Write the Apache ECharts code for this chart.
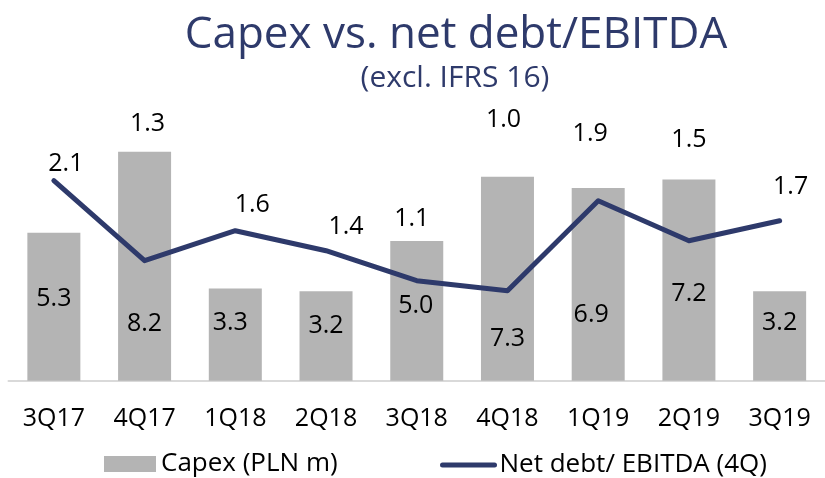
<!DOCTYPE html>
<html>
<head>
<meta charset="utf-8">
<script src="https://cdn.jsdelivr.net/npm/echarts@6/dist/echarts.min.js"></script>
<style>
  html, body { margin: 0; padding: 0; background: #ffffff; }
  #chart { width: 825px; height: 478px; }
</style>
</head>
<body>
<div id="chart"></div>
<script>
// ---- data ----
const quarters = ['3Q17', '4Q17', '1Q18', '2Q18', '3Q18', '4Q18', '1Q19', '2Q19', '3Q19'];
const capex = [5.3, 8.2, 3.3, 3.2, 5.0, 7.3, 6.9, 7.2, 3.2];
const netDebtEbitda = [2.1, 1.3, 1.6, 1.4, 1.1, 1.0, 1.9, 1.5, 1.7];
const titleText = 'Capex vs. net debt/EBITDA';
const subtitleText = '(excl. IFRS 16)';
const capexName = 'Capex (PLN m)';
const ratioName = 'Net debt/ EBITDA (4Q)';

// ---- label placement (styling, pixels) ----
const capexLabelLift = [82, 57, 58, 55, 75, 42, 66, 87, 58];
const capexLabelShift = [0, 0, -5, 0, -1, 0, -7, 0, 0];
const ratioLabelOffset = [[12, -17], [3, -137], [17, -26], [20, -24], [-5, -62], [-4, -171], [-8, -67], [0, -101], [11, -34]];

const FONT = "'Open Sans', 'Noto Sans', sans-serif";
const NAVY = '#2E3A6B';
const GREY = '#B4B4B4';

const chart = echarts.init(document.getElementById('chart'), null, { renderer: 'canvas' });

const barData = capex.map((v, i) => ({
  value: v,
  label: { offset: [capexLabelShift[i], -capexLabelLift[i]] }
}));
const lineData = netDebtEbitda.map((v, i) => ({
  value: v,
  label: { offset: ratioLabelOffset[i] }
}));

chart.setOption({
  animation: false,
  backgroundColor: '#ffffff',
  textStyle: { fontFamily: FONT },
  graphic: [
    {
      type: 'text', x: 456, y: 35,
      style: { text: titleText, font: '44px ' + FONT, fill: NAVY, align: 'center', verticalAlign: 'middle' }
    },
    {
      type: 'text', x: 455, y: 78,
      style: { text: subtitleText, font: '30px ' + FONT, fill: NAVY, align: 'center', verticalAlign: 'middle' }
    }
  ],
  legend: [
    {
      data: [{ name: capexName, icon: 'rect' }],
      left: 99, top: 446,
      itemWidth: 52, itemHeight: 16, itemGap: 0,
      textStyle: { fontFamily: FONT, fontSize: 26, color: '#000' }
    },
    {
      data: [{ name: ratioName, itemStyle: { opacity: 0 } }],
      left: 435, top: 447,
      itemWidth: 52, itemHeight: 16, itemGap: 0,
      itemStyle: { opacity: 0 },
      lineStyle: { width: 5, color: NAVY },
      textStyle: { fontFamily: FONT, fontSize: 26, color: '#000' }
    }
  ],
  grid: { left: 8.5, right: -8, top: 101.4, bottom: 97.3, containLabel: false },
  xAxis: {
    type: 'category',
    data: quarters,
    axisTick: { show: false },
    axisLine: { lineStyle: { color: '#D9D9D9', width: 2 } },
    axisLabel: { fontFamily: FONT, fontSize: 25, color: '#000', margin: 38, verticalAlign: 'middle' }
  },
  yAxis: [
    { type: 'value', min: 0, max: 10, show: false, splitLine: { show: false } },
    { type: 'value', min: 0.1, max: 2.893, show: false, splitLine: { show: false } }
  ],
  series: [
    {
      name: capexName,
      type: 'bar',
      yAxisIndex: 0,
      barWidth: 53,
      itemStyle: { color: GREY },
      data: barData,
      label: {
        show: true,
        position: ['50%', '100%'],
        align: 'center',
        verticalAlign: 'middle',
        fontFamily: FONT, fontSize: 25, color: '#000',
        formatter: p => p.value.toFixed(1)
      },
      z: 1
    },
    {
      name: ratioName,
      type: 'line',
      yAxisIndex: 1,
      data: lineData,
      symbol: 'circle',
      symbolSize: 1,
      itemStyle: { color: NAVY },
      lineStyle: { color: NAVY, width: 5, cap: 'round', join: 'round' },
      label: {
        show: true,
        position: 'inside',
        align: 'center',
        verticalAlign: 'middle',
        fontFamily: FONT, fontSize: 25, color: '#000',
        formatter: p => p.value.toFixed(1)
      },
      z: 3
    }
  ]
});
</script>
</body>
</html>
